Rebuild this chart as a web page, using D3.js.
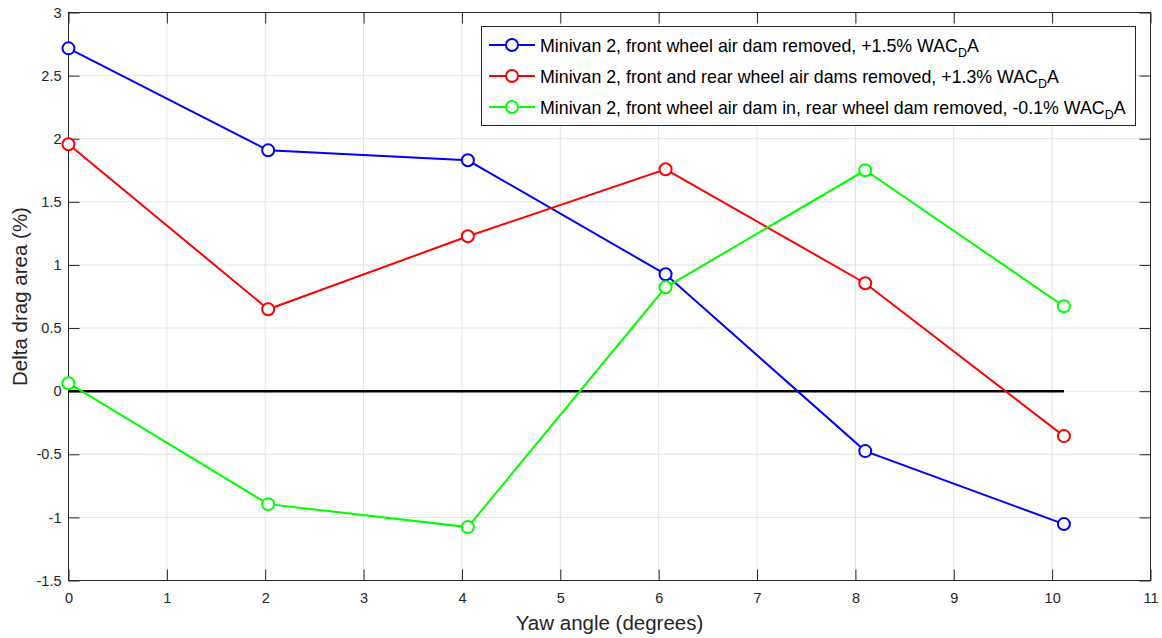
<!DOCTYPE html>
<html>
<head>
<meta charset="utf-8">
<script src="https://cdn.jsdelivr.net/npm/d3@7"></script>
<style>
  html, body { margin: 0; padding: 0; background: #fff; }
  svg { display: block; font-family: "Liberation Sans", Arial, Helvetica, sans-serif; }
</style>
</head>
<body>
<svg id="chart" width="1162" height="638"></svg>
<script>
// Yaw angles (degrees) at which each configuration was measured
const yawAngles = [0, 2.03, 4.06, 6.07, 8.1, 10.12];

// Change in drag area (%) for each configuration
const frontDamRemoved = [2.716, 1.908, 1.829, 0.926, -0.475, -1.053];
const bothDamsRemoved = [1.956, 0.649, 1.227, 1.758, 0.855, -0.356];
const rearDamRemoved  = [0.063, -0.895, -1.077, 0.823, 1.750, 0.673];

const seriesNames = [
  "Minivan 2, front wheel air dam removed, +1.5% WAC",
  "Minivan 2, front and rear wheel air dams removed, +1.3% WAC",
  "Minivan 2, front wheel air dam in, rear wheel dam removed, -0.1% WAC"
];
const seriesColors = ["#0000ff", "#ff0000", "#00ff00"];

const xTicks = [0, 1, 2, 3, 4, 5, 6, 7, 8, 9, 10, 11];
const yTicks = [-1.5, -1, -0.5, 0, 0.5, 1, 1.5, 2, 2.5, 3];

const series = [frontDamRemoved, bothDamsRemoved, rearDamRemoved].map((vals, i) => ({
  name: seriesNames[i],
  color: seriesColors[i],
  points: vals.map((v, j) => ({ x: yawAngles[j], y: v }))
}));

const svg = d3.select("#chart");
const plotL = 68.5, plotR = 1150.5, plotT = 12.5, plotB = 580.5;
const axisColor = "#262626";

const x = d3.scaleLinear().domain([0, 11]).range([plotL, plotR]);
const y = d3.scaleLinear().domain([-1.5, 3]).range([plotB, plotT]);

// Grid
const grid = svg.append("g");
grid.selectAll("line.vx").data(xTicks).join("line")
  .attr("x1", d => x(d)).attr("x2", d => x(d))
  .attr("y1", plotT).attr("y2", plotB)
  .attr("stroke", "#e3e3e3").attr("stroke-width", 1);
grid.selectAll("line.hy").data(yTicks).join("line")
  .attr("x1", plotL).attr("x2", plotR)
  .attr("y1", d => y(d)).attr("y2", d => y(d))
  .attr("stroke", "#e3e3e3").attr("stroke-width", 1);

// Axes with inward ticks, box on all four sides
const tickLen = 11;
const plainNum = d => String(d); // hyphen-minus, as in the printed labels
const xAxisB = d3.axisBottom(x).tickValues(xTicks).tickSize(-tickLen).tickPadding(12).tickFormat(plainNum);
const yAxisL = d3.axisLeft(y).tickValues(yTicks).tickSize(-tickLen).tickPadding(7).tickFormat(plainNum);
const xAxisT = d3.axisTop(x).tickValues(xTicks).tickSize(-tickLen).tickFormat("");
const yAxisR = d3.axisRight(y).tickValues(yTicks).tickSize(-tickLen).tickFormat("");

function styleAxis(g) {
  g.selectAll(".tick line").attr("stroke", axisColor).attr("stroke-width", 1);
  g.selectAll(".tick text").attr("fill", axisColor).attr("font-size", 14.5)
    .attr("font-family", "Liberation Sans, Arial, sans-serif");
}
svg.append("g").attr("transform", `translate(0,${plotB})`).call(xAxisB).call(styleAxis);
svg.append("g").attr("transform", `translate(${plotL},0)`).call(yAxisL).call(styleAxis);
svg.append("g").attr("transform", `translate(0,${plotT})`).call(xAxisT).call(styleAxis);
svg.append("g").attr("transform", `translate(${plotR},0)`).call(yAxisR).call(styleAxis);
svg.selectAll("path.domain").remove();
svg.append("rect").attr("x", plotL).attr("y", plotT)
  .attr("width", plotR - plotL).attr("height", plotB - plotT)
  .attr("fill", "none").attr("stroke", axisColor).attr("stroke-width", 1);

// Zero reference line
svg.append("line")
  .attr("x1", x(0)).attr("x2", x(yawAngles[yawAngles.length - 1]))
  .attr("y1", y(0)).attr("y2", y(0))
  .attr("stroke", "#000").attr("stroke-width", 2.5);

// Data series
const line = d3.line().x(d => x(d.x)).y(d => y(d.y));
series.forEach(s => {
  const g = svg.append("g");
  g.append("path").datum(s.points).attr("d", line)
    .attr("fill", "none").attr("stroke", s.color).attr("stroke-width", 2);
  g.selectAll("circle").data(s.points).join("circle")
    .attr("cx", d => x(d.x)).attr("cy", d => y(d.y)).attr("r", 6)
    .attr("fill", "#fff").attr("stroke", s.color).attr("stroke-width", 2);
});

// Axis titles
svg.append("text").attr("x", (plotL + plotR) / 2).attr("y", 630)
  .attr("text-anchor", "middle").attr("font-size", 20.5).attr("fill", axisColor)
  .text("Yaw angle (degrees)");
svg.append("text").attr("transform", `translate(27,${(plotT + plotB) / 2}) rotate(-90)`)
  .attr("text-anchor", "middle").attr("font-size", 20.5).attr("fill", axisColor)
  .text("Delta drag area (%)");

// Legend
const lg = svg.append("g");
lg.append("rect").attr("x", 481.5).attr("y", 26.5).attr("width", 654).attr("height", 99)
  .attr("fill", "#fff").attr("stroke", axisColor).attr("stroke-width", 1);
const rowY = [45, 76, 107];
series.forEach((s, i) => {
  const ry = rowY[i];
  lg.append("line").attr("x1", 489).attr("x2", 535).attr("y1", ry).attr("y2", ry)
    .attr("stroke", s.color).attr("stroke-width", 2);
  lg.append("circle").attr("cx", 512).attr("cy", ry).attr("r", 6)
    .attr("fill", "#fff").attr("stroke", s.color).attr("stroke-width", 2);
  const t = lg.append("text").attr("x", 540).attr("y", ry + 6.5)
    .attr("font-size", 17.8).attr("fill", "#000");
  t.append("tspan").text(s.name);
  t.append("tspan").attr("font-size", 12.5).attr("dy", 5).text("D");
  t.append("tspan").attr("dy", -5).text("A");
});
</script>
</body>
</html>
